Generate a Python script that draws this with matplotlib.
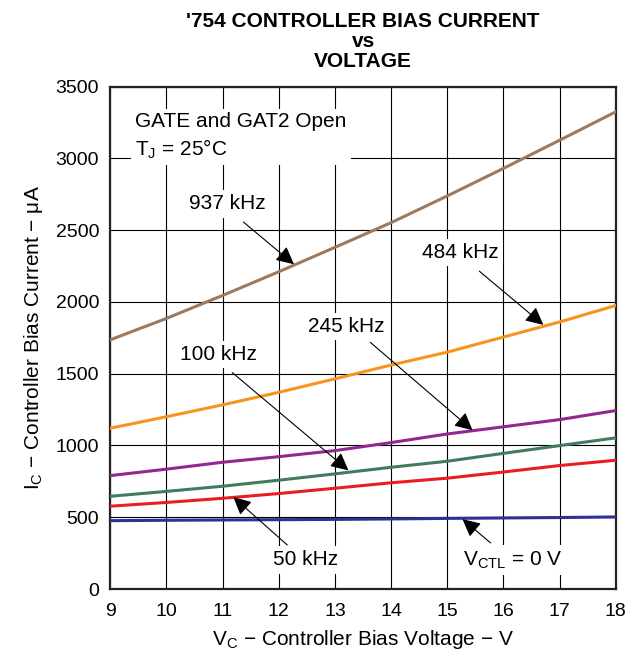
import numpy as np
import matplotlib
matplotlib.use('Agg')
import matplotlib.pyplot as plt

plt.rcParams['font.family'] = ['Liberation Sans', 'DejaVu Sans']
plt.rcParams['mathtext.default'] = 'regular'

# bias voltage (V) and bias current (uA) per switching frequency
volts = [9, 10, 11, 12, 13, 14, 15, 16, 17, 18]
i_937k = [1736, 1885, 2045, 2210, 2380, 2552, 2738, 2930, 3126, 3324]
i_484k = [1120, 1200, 1283, 1370, 1464, 1560, 1650, 1755, 1860, 1975]
i_245k = [790, 835, 883, 922, 964, 1020, 1080, 1130, 1180, 1243]
i_100k = [646, 680, 716, 758, 802, 848, 890, 945, 999, 1053]
i_50k = [577, 603, 632, 665, 702, 740, 772, 815, 860, 897]
i_0 = [476, 479, 481, 483, 485, 488, 492, 495, 498, 502]

fig = plt.figure(figsize=(6.29, 6.56), dpi=100)
ax = fig.add_axes([0.1754, 0.1021, 0.8036, 0.766])

ax.plot(volts, i_937k, color='#9b7a60', lw=2.2, zorder=4)
ax.plot(volts, i_484k, color='#f7941d', lw=2.2, zorder=4)
ax.plot(volts, i_245k, color='#92278f', lw=2.2, zorder=4)
ax.plot(volts, i_100k, color='#3f7d5c', lw=2.2, zorder=4)
ax.plot(volts, i_50k, color='#ed1c24', lw=2.2, zorder=4)
ax.plot(volts, i_0, color='#2e3192', lw=2.2, zorder=4)

ax.set_xlim(9, 18)
ax.set_ylim(0, 3500)
ax.set_xticks(range(9, 19))
ax.set_yticks(range(0, 3501, 500))
ax.grid(True, color='black', lw=0.8)
ax.set_axisbelow(True)
ax.tick_params(axis='x', length=0, labelsize=14, pad=10)
ax.tick_params(axis='y', length=0, labelsize=14, pad=8)
for s in ax.spines.values():
    s.set_linewidth(1.6)
    s.set_color('#222222')

ax.set_xlabel('V$_C$ − Controller Bias Voltage − V', fontsize=15, labelpad=6)
ax.set_ylabel('I$_C$ − Controller Bias Current − μA', fontsize=15, labelpad=8)
ax.set_title("'754 CONTROLLER BIAS CURRENT\nvs\nVOLTAGE", fontsize=15,
             fontweight='bold', linespacing=1.08, pad=14)

box = dict(facecolor='white', edgecolor='none', pad=3)

ax.text(9.44, 3325, 'GATE and GAT2 Open\nT$_J$ = 25°C', fontsize=15,
        va='top', ha='left', linespacing=1.4, bbox=box, zorder=3)

# (label, text pos, arrow tail, arrow tip)
labels = [
    ('937 kHz', (11.08, 2682), (11.37, 2556), (12.27, 2262)),
    ('484 kHz', (15.23, 2346), (15.57, 2214), (16.71, 1840)),
    ('245 kHz', (13.20, 1830), (13.63, 1718), (15.45, 1106)),
    ('100 kHz', (10.92, 1634), (11.17, 1508), (13.24, 826)),
    ('50 kHz', (12.47, 203), (12.15, 307), (11.19, 640)),
    ('V$_{CTL}$ = 0 V', (16.16, 203), (15.77, 321), (15.27, 487)),
]
for txt, pos, tail, tip in labels:
    ax.text(pos[0], pos[1], txt, fontsize=15, ha='center', va='center',
            bbox=box, zorder=3)
    ax.annotate('', xy=tip, xytext=tail,
                arrowprops=dict(arrowstyle='-|>', color='black', lw=0.8,
                                mutation_scale=27, shrinkA=0, shrinkB=0),
                zorder=5)

fig.savefig('out.png', dpi=100)
